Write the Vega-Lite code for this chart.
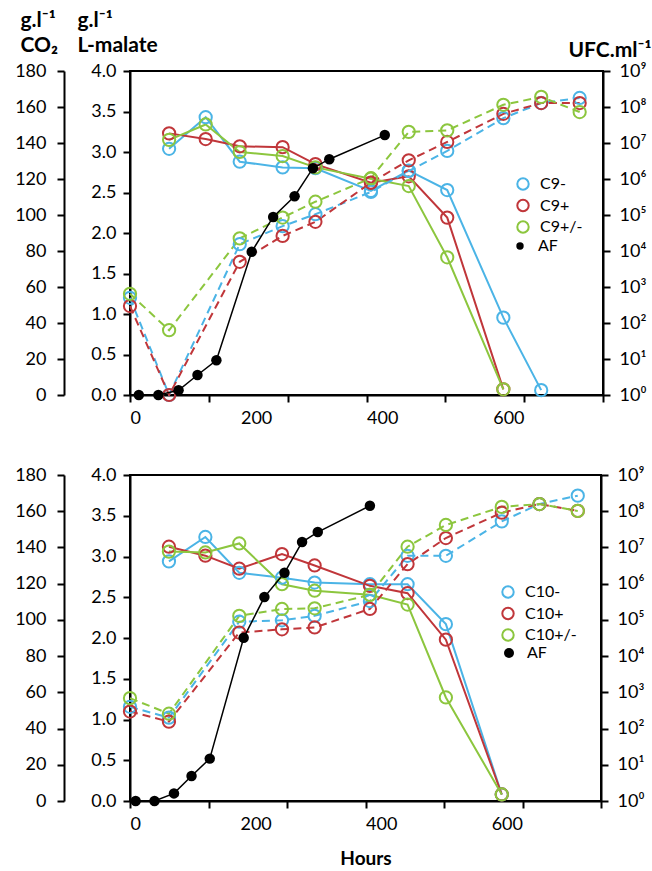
{
  "$schema": "https://vega.github.io/schema/vega-lite/v6.json",
  "padding": {"left": 13, "top": 8, "right": 2, "bottom": 5},
  "config": {
    "font": "Lato",
    "view": {"stroke": "black", "strokeWidth": 2},
    "axis": {"grid": false, "domainColor": "black", "domainWidth": 2, "tickColor": "black", "tickWidth": 2, "tickSize": 7, "labelFontSize": 18, "labelColor": "black", "labelFont": "Lato", "titleFont": "Lato", "titleColor": "black"},
    "legend": {"labelFontSize": 16, "labelFont": "Lato", "labelColor": "black", "symbolSize": 130, "symbolStrokeWidth": 2, "rowPadding": 1.5, "labelOffset": 9, "padding": 0}
  },
  "datasets": {
    "m9": [
      {"series": "C9-", "hours": 62, "malate": 3.04}, {"series": "C9-", "hours": 120, "malate": 3.43}, {"series": "C9-", "hours": 174, "malate": 2.88}, {"series": "C9-", "hours": 242, "malate": 2.81}, {"series": "C9-", "hours": 294, "malate": 2.80}, {"series": "C9-", "hours": 382, "malate": 2.52}, {"series": "C9-", "hours": 442, "malate": 2.77}, {"series": "C9-", "hours": 503, "malate": 2.53}, {"series": "C9-", "hours": 592, "malate": 0.955}, {"series": "C9-", "hours": 652, "malate": 0.06},
      {"series": "C9+", "hours": 62, "malate": 3.23}, {"series": "C9+", "hours": 120, "malate": 3.16}, {"series": "C9+", "hours": 174, "malate": 3.07}, {"series": "C9+", "hours": 242, "malate": 3.06}, {"series": "C9+", "hours": 294, "malate": 2.85}, {"series": "C9+", "hours": 382, "malate": 2.62}, {"series": "C9+", "hours": 442, "malate": 2.70}, {"series": "C9+", "hours": 503, "malate": 2.19}, {"series": "C9+", "hours": 592, "malate": 0.07},
      {"series": "C9+/-", "hours": 62, "malate": 3.15}, {"series": "C9+/-", "hours": 120, "malate": 3.34}, {"series": "C9+/-", "hours": 174, "malate": 3.00}, {"series": "C9+/-", "hours": 242, "malate": 2.95}, {"series": "C9+/-", "hours": 294, "malate": 2.81}, {"series": "C9+/-", "hours": 382, "malate": 2.67}, {"series": "C9+/-", "hours": 442, "malate": 2.58}, {"series": "C9+/-", "hours": 503, "malate": 1.70}, {"series": "C9+/-", "hours": 592, "malate": 0.07}
    ],
    "u9": [
      {"series": "C9-", "hours": 0, "ufc": 501}, {"series": "C9-", "hours": 62, "ufc": 1}, {"series": "C9-", "hours": 174, "ufc": 15500}, {"series": "C9-", "hours": 242, "ufc": 49000}, {"series": "C9-", "hours": 294, "ufc": 105000}, {"series": "C9-", "hours": 382, "ufc": 437000}, {"series": "C9-", "hours": 442, "ufc": 1660000}, {"series": "C9-", "hours": 503, "ufc": 6030000}, {"series": "C9-", "hours": 592, "ufc": 49000000}, {"series": "C9-", "hours": 652, "ufc": 129000000}, {"series": "C9-", "hours": 713, "ufc": 178000000},
      {"series": "C9+", "hours": 0, "ufc": 295}, {"series": "C9+", "hours": 62, "ufc": 1}, {"series": "C9+", "hours": 174, "ufc": 5000}, {"series": "C9+", "hours": 242, "ufc": 26300}, {"series": "C9+", "hours": 294, "ufc": 64600}, {"series": "C9+", "hours": 382, "ufc": 794000}, {"series": "C9+", "hours": 442, "ufc": 3310000}, {"series": "C9+", "hours": 503, "ufc": 10700000}, {"series": "C9+", "hours": 592, "ufc": 64600000}, {"series": "C9+", "hours": 652, "ufc": 129000000}, {"series": "C9+", "hours": 713, "ufc": 129000000},
      {"series": "C9+/-", "hours": 0, "ufc": 646}, {"series": "C9+/-", "hours": 62, "ufc": 63}, {"series": "C9+/-", "hours": 174, "ufc": 22400}, {"series": "C9+/-", "hours": 242, "ufc": 85100}, {"series": "C9+/-", "hours": 294, "ufc": 234000}, {"series": "C9+/-", "hours": 382, "ufc": 1050000}, {"series": "C9+/-", "hours": 442, "ufc": 20400000}, {"series": "C9+/-", "hours": 503, "ufc": 22400000}, {"series": "C9+/-", "hours": 592, "ufc": 115000000}, {"series": "C9+/-", "hours": 652, "ufc": 191000000}, {"series": "C9+/-", "hours": 713, "ufc": 72400000}
    ],
    "a9": [
      {"series": "AF", "hours": 14, "co2": 0}, {"series": "AF", "hours": 45, "co2": 0}, {"series": "AF", "hours": 77, "co2": 2.6}, {"series": "AF", "hours": 107, "co2": 11.1}, {"series": "AF", "hours": 137, "co2": 19.3}, {"series": "AF", "hours": 193, "co2": 79.6}, {"series": "AF", "hours": 227, "co2": 98.9}, {"series": "AF", "hours": 261, "co2": 110.4}, {"series": "AF", "hours": 290, "co2": 126}, {"series": "AF", "hours": 316, "co2": 131}, {"series": "AF", "hours": 404, "co2": 144.4}
    ],
    "m10": [
      {"series": "C10-", "hours": 62, "malate": 2.94}, {"series": "C10-", "hours": 120, "malate": 3.24}, {"series": "C10-", "hours": 174, "malate": 2.80}, {"series": "C10-", "hours": 242, "malate": 2.74}, {"series": "C10-", "hours": 294, "malate": 2.68}, {"series": "C10-", "hours": 382, "malate": 2.66}, {"series": "C10-", "hours": 442, "malate": 2.66}, {"series": "C10-", "hours": 503, "malate": 2.17}, {"series": "C10-", "hours": 592, "malate": 0.08},
      {"series": "C10+", "hours": 62, "malate": 3.12}, {"series": "C10+", "hours": 120, "malate": 3.01}, {"series": "C10+", "hours": 174, "malate": 2.85}, {"series": "C10+", "hours": 242, "malate": 3.03}, {"series": "C10+", "hours": 294, "malate": 2.89}, {"series": "C10+", "hours": 382, "malate": 2.64}, {"series": "C10+", "hours": 442, "malate": 2.55}, {"series": "C10+", "hours": 503, "malate": 1.98}, {"series": "C10+", "hours": 592, "malate": 0.08},
      {"series": "C10+/-", "hours": 62, "malate": 3.06}, {"series": "C10+/-", "hours": 120, "malate": 3.05}, {"series": "C10+/-", "hours": 174, "malate": 3.16}, {"series": "C10+/-", "hours": 242, "malate": 2.66}, {"series": "C10+/-", "hours": 294, "malate": 2.58}, {"series": "C10+/-", "hours": 382, "malate": 2.53}, {"series": "C10+/-", "hours": 442, "malate": 2.41}, {"series": "C10+/-", "hours": 503, "malate": 1.27}, {"series": "C10+/-", "hours": 592, "malate": 0.08}
    ],
    "u10": [
      {"series": "C10-", "hours": 0, "ufc": 398}, {"series": "C10-", "hours": 62, "ufc": 200}, {"series": "C10-", "hours": 174, "ufc": 89100}, {"series": "C10-", "hours": 242, "ufc": 97700}, {"series": "C10-", "hours": 294, "ufc": 129000}, {"series": "C10-", "hours": 382, "ufc": 331000}, {"series": "C10-", "hours": 442, "ufc": 5890000}, {"series": "C10-", "hours": 503, "ufc": 5890000}, {"series": "C10-", "hours": 592, "ufc": 52500000}, {"series": "C10-", "hours": 652, "ufc": 158000000}, {"series": "C10-", "hours": 713, "ufc": 269000000},
      {"series": "C10+", "hours": 0, "ufc": 295}, {"series": "C10+", "hours": 62, "ufc": 155}, {"series": "C10+", "hours": 174, "ufc": 44700}, {"series": "C10+", "hours": 242, "ufc": 55000}, {"series": "C10+", "hours": 294, "ufc": 61700}, {"series": "C10+", "hours": 382, "ufc": 200000}, {"series": "C10+", "hours": 442, "ufc": 3470000}, {"series": "C10+", "hours": 503, "ufc": 18200000}, {"series": "C10+", "hours": 592, "ufc": 91200000}, {"series": "C10+", "hours": 652, "ufc": 158000000}, {"series": "C10+", "hours": 713, "ufc": 102000000},
      {"series": "C10+/-", "hours": 0, "ufc": 692}, {"series": "C10+/-", "hours": 62, "ufc": 257}, {"series": "C10+/-", "hours": 174, "ufc": 129000}, {"series": "C10+/-", "hours": 242, "ufc": 200000}, {"series": "C10+/-", "hours": 294, "ufc": 209000}, {"series": "C10+/-", "hours": 382, "ufc": 490000}, {"series": "C10+/-", "hours": 442, "ufc": 10500000}, {"series": "C10+/-", "hours": 503, "ufc": 41700000}, {"series": "C10+/-", "hours": 592, "ufc": 132000000}, {"series": "C10+/-", "hours": 652, "ufc": 158000000}, {"series": "C10+/-", "hours": 713, "ufc": 102000000}
    ],
    "a10": [
      {"series": "AF", "hours": 9, "co2": 0}, {"series": "AF", "hours": 39, "co2": 0}, {"series": "AF", "hours": 70, "co2": 4.2}, {"series": "AF", "hours": 98, "co2": 13.8}, {"series": "AF", "hours": 127, "co2": 23.4}, {"series": "AF", "hours": 181, "co2": 90.1}, {"series": "AF", "hours": 214, "co2": 112.6}, {"series": "AF", "hours": 246, "co2": 126}, {"series": "AF", "hours": 274, "co2": 143}, {"series": "AF", "hours": 299, "co2": 148.5}, {"series": "AF", "hours": 382, "co2": 163}
    ]
  },
  "spacing": 37,
  "resolve": {"scale": {"stroke": "independent", "fill": "independent"}, "legend": {"stroke": "independent", "fill": "independent"}},
  "vconcat": [
    {
      "width": 473, "height": 324,
      "resolve": {"scale": {"y": "independent", "stroke": "independent"}, "axis": {"x": "independent", "y": "independent"}, "legend": {"stroke": "independent"}},
      "layer": [
        {
          "data": {"name": "m9"},
          "encoding": {
            "x": {"field": "hours", "type": "quantitative", "scale": {"domain": [0, 750], "nice": false}, "axis": {"orient": "bottom", "values": [0, 200, 400, 600], "ticks": false, "labelPadding": 14, "title": null}},
            "y": {"field": "malate", "type": "quantitative", "scale": {"domain": [0, 4], "nice": false}, "axis": {"orient": "left", "values": [0, 0.5, 1, 1.5, 2, 2.5, 3, 3.5, 4], "format": ".1f", "labelPadding": 7, "title": ["g.l⁻¹", "L-malate"], "titleAngle": 0, "titleAlign": "left", "titleBaseline": "top", "titleX": -53, "titleY": -62, "titleFontSize": 21, "titleFontWeight": "bold", "titleLineHeight": 25}},
            "stroke": {"field": "series", "type": "nominal", "scale": {"domain": ["C9-", "C9+", "C9+/-"], "range": ["#4BB4E6", "#C0363A", "#8CC63E"]}, "legend": {"orient": "none", "legendX": 385, "legendY": 105, "title": null, "symbolType": "circle", "symbolFillColor": "transparent"}}
          },
          "layer": [
            {"mark": {"type": "line", "strokeWidth": 2}},
            {"mark": {"type": "point", "filled": false, "size": 150, "strokeWidth": 2, "opacity": 1}},
            {"data": {"values": [{"label": "C9"}]}, "mark": {"type": "text", "fontSize": 26, "fontWeight": "bold", "align": "left", "baseline": "middle", "color": "black"}, "encoding": {"x": {"datum": 35}, "y": {"datum": 3.68}, "text": {"field": "label"}, "stroke": {"value": null}}}
          ]
        },
        {
          "data": {"name": "u9"},
          "encoding": {
            "x": {"field": "hours", "type": "quantitative", "scale": {"domain": [0, 750], "nice": false}, "axis": null},
            "y": {"field": "ufc", "type": "quantitative", "scale": {"type": "log", "domain": [1, 1000000000], "nice": false}, "axis": {"orient": "right", "values": [1, 10, 100, 1000, 10000, 100000, 1000000, 10000000, 100000000, 1000000000], "labelExpr": "'10' + ['⁰','¹','²','³','⁴','⁵','⁶','⁷','⁸','⁹'][round(log(datum.value)/LN10)]", "labelPadding": 9, "title": "UFC.ml⁻¹", "titleAngle": 0, "titleAlign": "right", "titleBaseline": "alphabetic", "titleX": 48, "titleY": -15, "titleFontSize": 21, "titleFontWeight": "bold"}},
            "stroke": {"field": "series", "type": "nominal", "scale": {"domain": ["C9-", "C9+", "C9+/-"], "range": ["#4BB4E6", "#C0363A", "#8CC63E"]}, "legend": null}
          },
          "layer": [
            {"mark": {"type": "line", "strokeWidth": 2, "strokeDash": [8, 5]}},
            {"mark": {"type": "point", "filled": false, "size": 150, "strokeWidth": 2, "opacity": 1}}
          ]
        },
        {
          "data": {"name": "a9"},
          "encoding": {
            "x": {"field": "hours", "type": "quantitative", "scale": {"domain": [0, 750], "nice": false}, "axis": {"orient": "bottom", "values": [0, 125, 250, 375, 500, 625, 750], "labels": false, "domain": false, "title": null}},
            "y": {"field": "co2", "type": "quantitative", "scale": {"domain": [0, 180], "nice": false}, "axis": {"orient": "left", "offset": 66, "values": [0, 20, 40, 60, 80, 100, 120, 140, 160, 180], "labelPadding": 11, "title": ["g.l⁻¹", "CO₂"], "titleAngle": 0, "titleAlign": "left", "titleBaseline": "top", "titleX": -44, "titleY": -62, "titleFontSize": 21, "titleFontWeight": "bold", "titleLineHeight": 25}}
          },
          "layer": [
            {"mark": {"type": "line", "color": "black", "strokeWidth": 1.5}, "encoding": {}},
            {"mark": {"type": "point", "filled": true, "size": 110, "opacity": 1}, "encoding": {
              "fill": {"field": "series", "type": "nominal", "scale": {"domain": ["AF"], "range": ["black"]}, "legend": {"orient": "none", "legendX": 382, "legendY": 167, "title": null, "symbolType": "circle", "symbolSize": 55, "labelOffset": 10}}
            }}
          ]
        }
      ]
    },
    {
      "width": 471, "height": 326,
      "resolve": {"scale": {"y": "independent", "stroke": "independent"}, "axis": {"x": "independent", "y": "independent"}, "legend": {"stroke": "independent"}},
      "layer": [
        {
          "data": {"name": "m10"},
          "encoding": {
            "x": {"field": "hours", "type": "quantitative", "scale": {"domain": [0, 750], "nice": false}, "axis": {"orient": "bottom", "values": [0, 200, 400, 600], "ticks": false, "labelPadding": 14, "title": "Hours", "titleFontSize": 19, "titleFontWeight": "bold", "titlePadding": 16}},
            "y": {"field": "malate", "type": "quantitative", "scale": {"domain": [0, 4], "nice": false}, "axis": {"orient": "left", "values": [0, 0.5, 1, 1.5, 2, 2.5, 3, 3.5, 4], "format": ".1f", "labelPadding": 7, "title": null}},
            "stroke": {"field": "series", "type": "nominal", "scale": {"domain": ["C10-", "C10+", "C10+/-"], "range": ["#4BB4E6", "#C0363A", "#8CC63E"]}, "legend": {"orient": "none", "legendX": 370, "legendY": 109, "title": null, "symbolType": "circle", "symbolFillColor": "transparent"}}
          },
          "layer": [
            {"mark": {"type": "line", "strokeWidth": 2}},
            {"mark": {"type": "point", "filled": false, "size": 150, "strokeWidth": 2, "opacity": 1}},
            {"data": {"values": [{"label": "C10"}]}, "mark": {"type": "text", "fontSize": 26, "fontWeight": "bold", "align": "left", "baseline": "middle", "color": "black"}, "encoding": {"x": {"datum": 30}, "y": {"datum": 3.62}, "text": {"field": "label"}, "stroke": {"value": null}}}
          ]
        },
        {
          "data": {"name": "u10"},
          "encoding": {
            "x": {"field": "hours", "type": "quantitative", "scale": {"domain": [0, 750], "nice": false}, "axis": null},
            "y": {"field": "ufc", "type": "quantitative", "scale": {"type": "log", "domain": [1, 1000000000], "nice": false}, "axis": {"orient": "right", "values": [1, 10, 100, 1000, 10000, 100000, 1000000, 10000000, 100000000, 1000000000], "labelExpr": "'10' + ['⁰','¹','²','³','⁴','⁵','⁶','⁷','⁸','⁹'][round(log(datum.value)/LN10)]", "labelPadding": 9, "title": null}},
            "stroke": {"field": "series", "type": "nominal", "scale": {"domain": ["C10-", "C10+", "C10+/-"], "range": ["#4BB4E6", "#C0363A", "#8CC63E"]}, "legend": null}
          },
          "layer": [
            {"mark": {"type": "line", "strokeWidth": 2, "strokeDash": [8, 5]}},
            {"mark": {"type": "point", "filled": false, "size": 150, "strokeWidth": 2, "opacity": 1}}
          ]
        },
        {
          "data": {"name": "a10"},
          "encoding": {
            "x": {"field": "hours", "type": "quantitative", "scale": {"domain": [0, 750], "nice": false}, "axis": {"orient": "bottom", "values": [0, 125, 250, 375, 500, 625, 750], "labels": false, "domain": false, "title": null}},
            "y": {"field": "co2", "type": "quantitative", "scale": {"domain": [0, 180], "nice": false}, "axis": {"orient": "left", "offset": 66, "values": [0, 20, 40, 60, 80, 100, 120, 140, 160, 180], "labelPadding": 11, "title": null}}
          },
          "layer": [
            {"mark": {"type": "line", "color": "black", "strokeWidth": 1.5}, "encoding": {}},
            {"mark": {"type": "point", "filled": true, "size": 110, "opacity": 1}, "encoding": {
              "fill": {"field": "series", "type": "nominal", "scale": {"domain": ["AF"], "range": ["black"]}, "legend": {"orient": "none", "legendX": 371, "legendY": 170, "title": null, "symbolType": "circle", "symbolSize": 100, "labelOffset": 10}}
            }}
          ]
        }
      ]
    }
  ]
}
